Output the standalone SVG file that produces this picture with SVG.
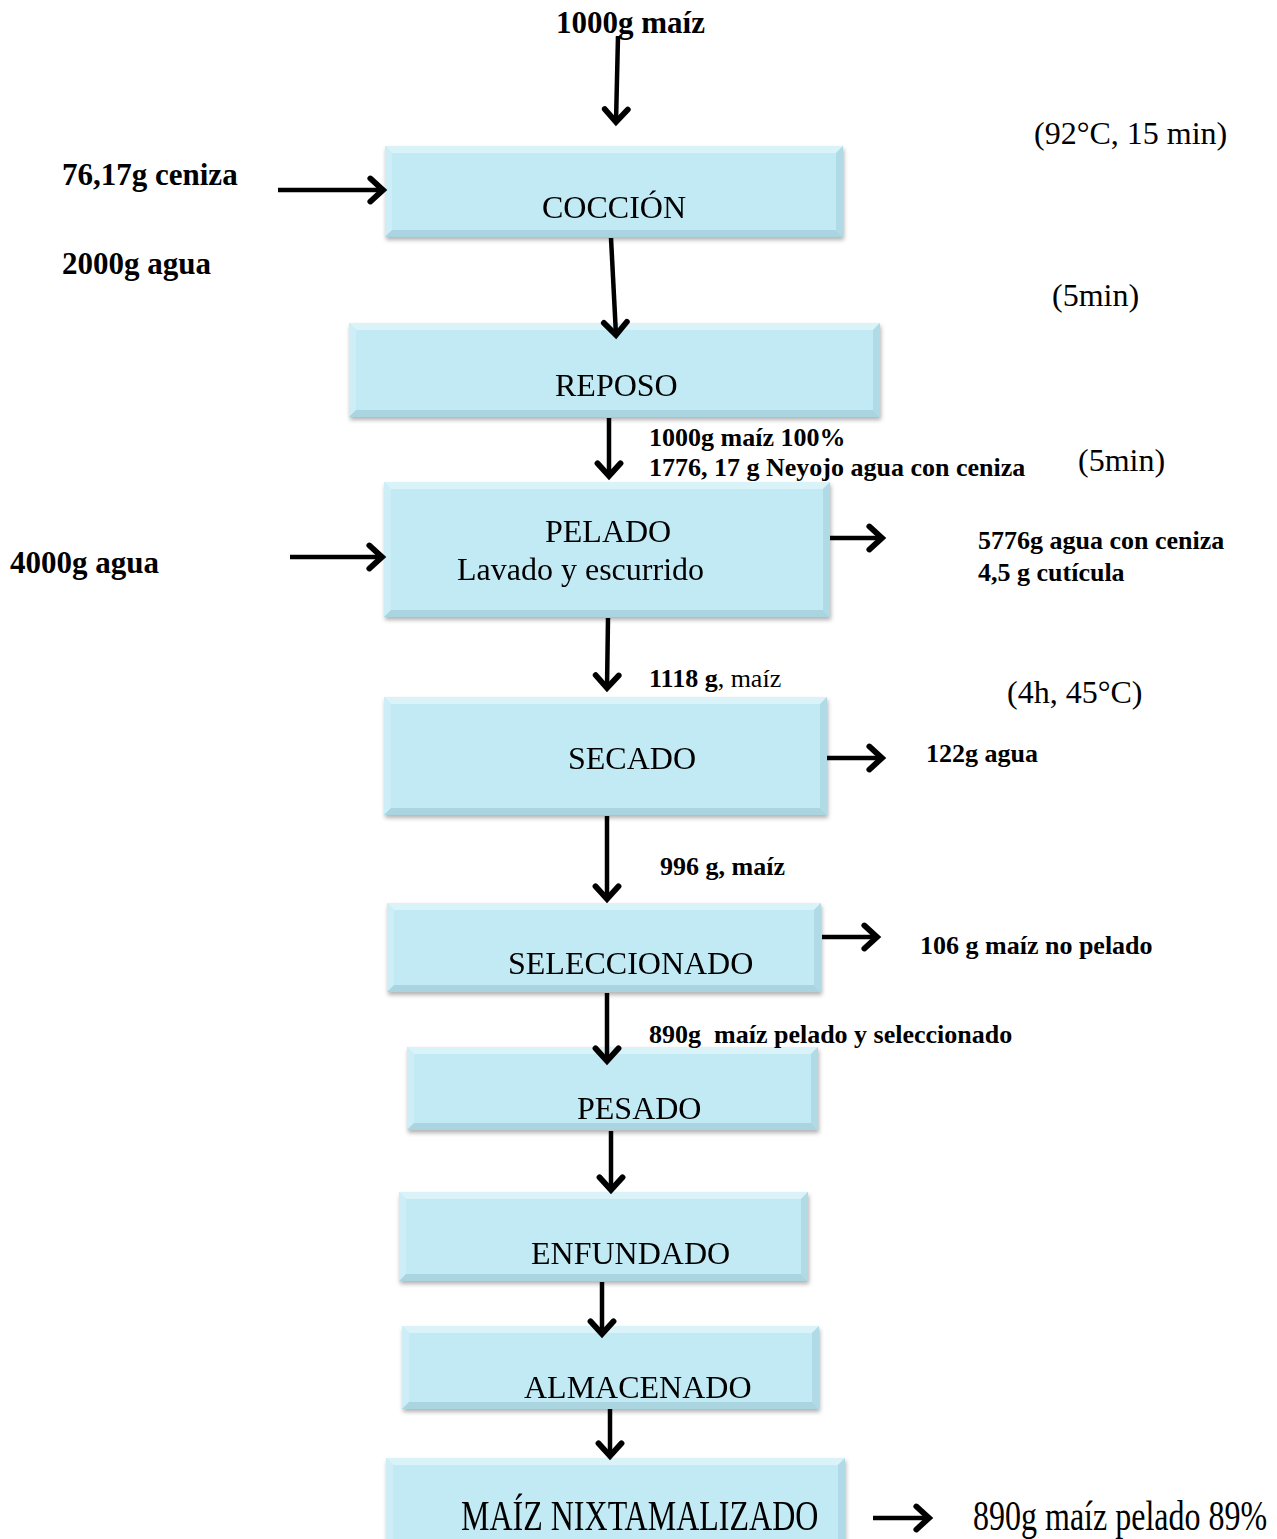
<svg xmlns="http://www.w3.org/2000/svg" width="1277" height="1539" viewBox="0 0 1277 1539">
<defs>
<style>
.lbl{font-family:"Liberation Serif","Times New Roman",serif;font-size:32px;fill:#000}
.b31{font-family:"Liberation Serif","Times New Roman",serif;font-size:31px;font-weight:bold;fill:#000}
.b26{font-family:"Liberation Serif","Times New Roman",serif;font-size:26px;font-weight:bold;fill:#000}
.r26{font-family:"Liberation Serif","Times New Roman",serif;font-size:26px;font-weight:normal;fill:#000}
.face{fill:#c1eaf4}
.bt{fill:#d9f3f9}
.bl{fill:#cdeef6}
.br{fill:#b0dbe6}
.bb{fill:#aad5e0}
.conn line{stroke:#000;stroke-width:4.5;marker-end:url(#ah)}
</style>
<marker id="ah" markerUnits="userSpaceOnUse" markerWidth="30" markerHeight="30" viewBox="-16 -13 20 26" refX="0" refY="0" orient="auto">
<path d="M-11,-10 L0,0 L-11,10" fill="none" stroke="#000" stroke-width="5" stroke-linecap="round" stroke-linejoin="miter"/>
</marker>
<filter id="sh" x="-5%" y="-10%" width="112%" height="130%">
<feDropShadow dx="1" dy="3" stdDeviation="2" flood-color="#000" flood-opacity="0.3"/>
</filter>
</defs>
<rect width="1277" height="1539" fill="#fff"/>

<g id="cocc" filter="url(#sh)">
<rect class="face" x="385" y="146" width="458" height="91"/>
<polygon class="bt" points="385,146 843,146 836,153 392,153"/>
<polygon class="bl" points="385,146 392,153 392,230 385,237"/>
<polygon class="br" points="843,146 843,237 836,230 836,153"/>
<polygon class="bb" points="385,237 843,237 836,230 392,230"/>
<text class="lbl" x="542" y="218">COCCIÓN</text>
</g>

<g id="reposo" filter="url(#sh)">
<rect class="face" x="349" y="323" width="531" height="94"/>
<polygon class="bt" points="349,323 880,323 873,330 356,330"/>
<polygon class="bl" points="349,323 356,330 356,410 349,417"/>
<polygon class="br" points="880,323 880,417 873,410 873,330"/>
<polygon class="bb" points="349,417 880,417 873,410 356,410"/>
<text class="lbl" x="555" y="396">REPOSO</text>
</g>

<g id="pelado" filter="url(#sh)">
<rect class="face" x="384" y="482" width="446" height="135"/>
<polygon class="bt" points="384,482 830,482 823,489 391,489"/>
<polygon class="bl" points="384,482 391,489 391,610 384,617"/>
<polygon class="br" points="830,482 830,617 823,610 823,489"/>
<polygon class="bb" points="384,617 830,617 823,610 391,610"/>
<text class="lbl" x="545" y="542">PELADO</text>
<text class="lbl" x="457" y="580">Lavado y escurrido</text>
</g>

<g id="secado" filter="url(#sh)">
<rect class="face" x="384" y="697" width="443" height="118"/>
<polygon class="bt" points="384,697 827,697 820,704 391,704"/>
<polygon class="bl" points="384,697 391,704 391,808 384,815"/>
<polygon class="br" points="827,697 827,815 820,808 820,704"/>
<polygon class="bb" points="384,815 827,815 820,808 391,808"/>
<text class="lbl" x="568" y="769">SECADO</text>
</g>

<g id="selec" filter="url(#sh)">
<rect class="face" x="387" y="903" width="434" height="89"/>
<polygon class="bt" points="387,903 821,903 814,910 394,910"/>
<polygon class="bl" points="387,903 394,910 394,985 387,992"/>
<polygon class="br" points="821,903 821,992 814,985 814,910"/>
<polygon class="bb" points="387,992 821,992 814,985 394,985"/>
<text class="lbl" x="508" y="974">SELECCIONADO</text>
</g>

<g id="pesado" filter="url(#sh)">
<rect class="face" x="407" y="1047" width="411" height="83"/>
<polygon class="bt" points="407,1047 818,1047 811,1054 414,1054"/>
<polygon class="bl" points="407,1047 414,1054 414,1123 407,1130"/>
<polygon class="br" points="818,1047 818,1130 811,1123 811,1054"/>
<polygon class="bb" points="407,1130 818,1130 811,1123 414,1123"/>
<text class="lbl" x="577" y="1119">PESADO</text>
</g>

<g id="enfund" filter="url(#sh)">
<rect class="face" x="399" y="1192" width="409" height="89"/>
<polygon class="bt" points="399,1192 808,1192 801,1199 406,1199"/>
<polygon class="bl" points="399,1192 406,1199 406,1274 399,1281"/>
<polygon class="br" points="808,1192 808,1281 801,1274 801,1199"/>
<polygon class="bb" points="399,1281 808,1281 801,1274 406,1274"/>
<text class="lbl" x="531" y="1264">ENFUNDADO</text>
</g>

<g id="almac" filter="url(#sh)">
<rect class="face" x="402" y="1326" width="417" height="83"/>
<polygon class="bt" points="402,1326 819,1326 812,1333 409,1333"/>
<polygon class="bl" points="402,1326 409,1333 409,1402 402,1409"/>
<polygon class="br" points="819,1326 819,1409 812,1402 812,1333"/>
<polygon class="bb" points="402,1409 819,1409 812,1402 409,1402"/>
<text class="lbl" x="524" y="1398">ALMACENADO</text>
</g>

<g id="maiz" filter="url(#sh)">
<rect class="face" x="386" y="1458" width="459" height="90"/>
<polygon class="bt" points="386,1458 845,1458 838,1465 393,1465"/>
<polygon class="bl" points="386,1458 393,1465 393,1548 386,1548"/>
<polygon class="br" points="845,1458 845,1548 838,1548 838,1465"/>
<text class="lbl" transform="translate(461,1530) scale(1,1.3)" x="0" y="0">MAÍZ NIXTAMALIZADO</text>
</g>

<g id="connectors" class="conn">
<line x1="618" y1="36" x2="616" y2="122"/>
<line x1="278" y1="190" x2="383" y2="190"/>
<line x1="611" y1="238" x2="616" y2="335"/>
<line x1="609" y1="418" x2="609" y2="476"/>
<line x1="290" y1="557" x2="382" y2="557"/>
<line x1="830" y1="538" x2="882" y2="538"/>
<line x1="608" y1="618" x2="607" y2="688"/>
<line x1="827" y1="758" x2="882" y2="758"/>
<line x1="607" y1="816" x2="607" y2="899"/>
<line x1="822" y1="937" x2="877" y2="937"/>
<line x1="607" y1="993" x2="607" y2="1061"/>
<line x1="611" y1="1131" x2="611" y2="1190"/>
<line x1="602" y1="1282" x2="602" y2="1334"/>
<line x1="610" y1="1409" x2="610" y2="1456"/>
<line x1="873" y1="1518" x2="929" y2="1518"/>
</g>

<g id="labels">
<text class="b31" x="556" y="33">1000g maíz</text>
<text class="b31" x="62" y="185">76,17g ceniza</text>
<text class="b31" x="62" y="274">2000g agua</text>
<text class="b31" x="10" y="573">4000g agua</text>
<text class="lbl" x="1034" y="144">(92°C, 15 min)</text>
<text class="lbl" x="1052" y="306">(5min)</text>
<text class="lbl" x="1078" y="471">(5min)</text>
<text class="lbl" x="1007" y="703">(4h, 45°C)</text>
<text class="b26" x="649" y="446">1000g maíz 100%</text>
<text class="b26" x="649" y="476">1776, 17 g Neyojo agua con ceniza</text>
<text class="b26" x="978" y="549">5776g agua con ceniza</text>
<text class="b26" x="978" y="581">4,5 g cutícula</text>
<text class="b26" x="649" y="687">1118 g<tspan class="r26">, maíz</tspan></text>
<text class="b26" x="926" y="762">122g agua</text>
<text class="b26" x="660" y="875">996 g, maíz</text>
<text class="b26" x="920" y="954">106 g maíz no pelado</text>
<text class="b26" x="649" y="1043" xml:space="preserve" style="white-space:pre">890g  maíz pelado y seleccionado</text>
<text class="lbl" transform="translate(973,1530) scale(1,1.3)" x="0" y="0">890g maíz pelado 89%</text>
</g>
</svg>
